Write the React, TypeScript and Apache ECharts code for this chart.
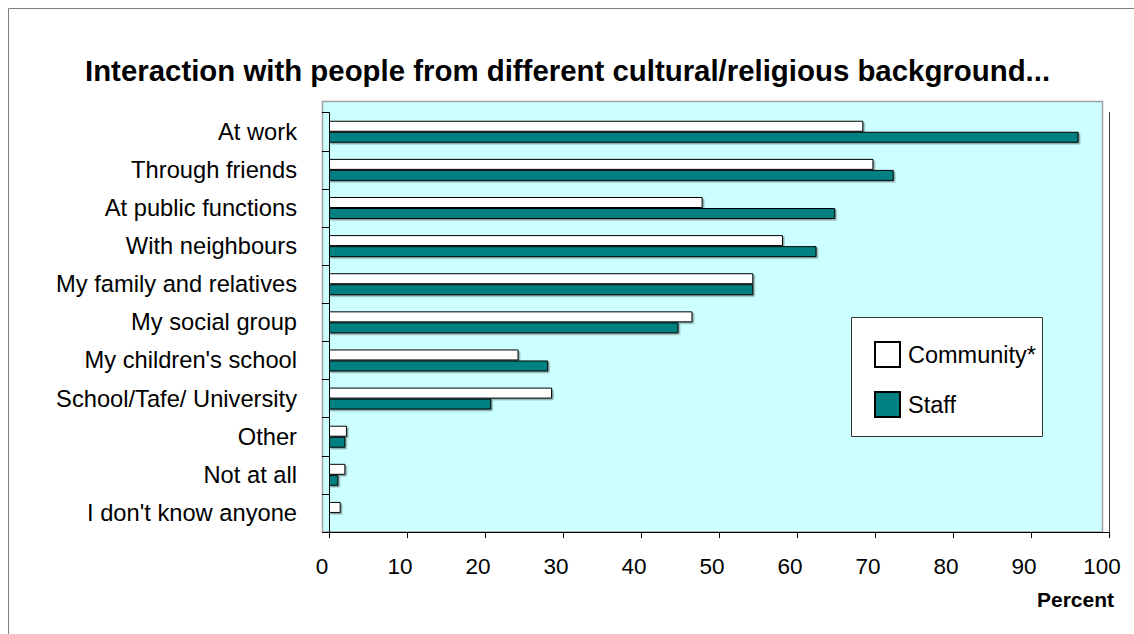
import React, { useEffect, useRef } from "react";
import * as echarts from "echarts";

const categories = [
  "At work",
  "Through friends",
  "At public functions",
  "With neighbours",
  "My family and relatives",
  "My social group",
  "My children's school",
  "School/Tafe/ University",
  "Other",
  "Not at all",
  "I don't know anyone",
];
const community = [68.5, 69.8, 47.9, 58.2, 54.4, 46.6, 24.3, 28.6, 2.3, 2.1, 1.5];
const staff = [96.1, 72.4, 64.9, 62.5, 54.4, 44.8, 28.1, 20.8, 2.1, 1.2, 0];
const xTicks = { min: 0, max: 100, interval: 10 };

const FONT = "'Liberation Sans', Arial, sans-serif";

export default function App() {
  const ref = useRef<HTMLDivElement>(null);
  useEffect(() => {
    if (!ref.current) return;
    const chart = echarts.init(ref.current, undefined, { renderer: "svg" });
    chart.setOption({
      animation: false,
      backgroundColor: "#ffffff",
      title: {
        text: "Interaction with people from different cultural/religious background...",
        left: 85,
        top: 56,
        padding: 0,
        textStyle: { fontFamily: FONT, fontSize: 29.4, fontWeight: "bold", color: "#000" },
      },
      graphic: [
        {
          type: "rect",
          z: -10,
          shape: { x: 8.5, y: 8.5, width: 1200, height: 700 },
          style: { fill: "none", stroke: "#808080", lineWidth: 1 },
        },
        {
          type: "rect",
          z: -5,
          shape: { x: 322.5, y: 101.5, width: 780, height: 430.5 },
          style: { fill: "#CCFFFF", stroke: "#a0a0a0", lineWidth: 1.5 },
        },
        {
          type: "line",
          z: -4,
          shape: { x1: 1109.5, y1: 112, x2: 1109.5, y2: 537 },
          style: { stroke: "#404040", lineWidth: 1 },
        },
        {
          type: "rect",
          z: 5,
          shape: { x: 851.5, y: 317.5, width: 191, height: 119 },
          style: { fill: "#ffffff", stroke: "#333333", lineWidth: 1 },
        },
      ],
      legend: {
        z: 10,
        orient: "vertical",
        left: 874,
        top: 341,
        padding: 0,
        itemWidth: 25,
        itemHeight: 25,
        itemGap: 23,
        icon: "rect",
        textStyle: { fontFamily: FONT, fontSize: 23.5, color: "#000", padding: [0, 0, 0, 3] },
        data: ["Community*", "Staff"],
      },
      grid: { left: 329, right: 25, top: 112.7, bottom: 102, containLabel: false },
      xAxis: {
        type: "value",
        min: xTicks.min,
        max: xTicks.max,
        interval: xTicks.interval,
        name: "Percent",
        nameLocation: "end",
        nameGap: 5,
        nameTextStyle: {
          fontFamily: FONT,
          fontSize: 21,
          fontWeight: "bold",
          color: "#000",
          align: "right",
          verticalAlign: "top",
          padding: [57, 0, 0, 0],
        },
        axisLine: { show: true, lineStyle: { color: "#000", width: 1 } },
        axisTick: { show: true, length: 6, lineStyle: { color: "#000" } },
        axisLabel: {
          fontFamily: FONT,
          fontSize: 22.5,
          color: "#000",
          margin: 23,
          padding: [0, 14, 0, 0],
        },
        splitLine: { show: false },
      },
      yAxis: {
        type: "category",
        inverse: true,
        data: categories,
        axisLine: { show: true, lineStyle: { color: "#000", width: 1 } },
        axisTick: { show: true, length: 7, lineStyle: { color: "#000" } },
        axisLabel: { fontFamily: FONT, fontSize: 23.7, color: "#000", margin: 32 },
        splitLine: { show: false },
      },
      series: [
        {
          name: "Community*",
          type: "bar",
          data: community,
          barWidth: 11,
          barGap: "0%",
          itemStyle: {
            color: "#ffffff",
            borderColor: "#000",
            borderWidth: 1,
            shadowColor: "rgba(0,0,0,0.35)",
            shadowOffsetX: 1.5,
            shadowOffsetY: 1.5,
            shadowBlur: 0,
          },
        },
        {
          name: "Staff",
          type: "bar",
          data: staff,
          barWidth: 11,
          barGap: "0%",
          itemStyle: {
            color: "#008080",
            borderColor: "#000",
            borderWidth: 1,
            shadowColor: "rgba(0,0,0,0.35)",
            shadowOffsetX: 1.5,
            shadowOffsetY: 1.5,
            shadowBlur: 0,
          },
        },
      ],
    });
    return () => chart.dispose();
  }, []);
  return (
    <div
      ref={ref}
      style={{ position: "fixed", left: 0, top: 0, width: 1134, height: 634 }}
    />
  );
}
